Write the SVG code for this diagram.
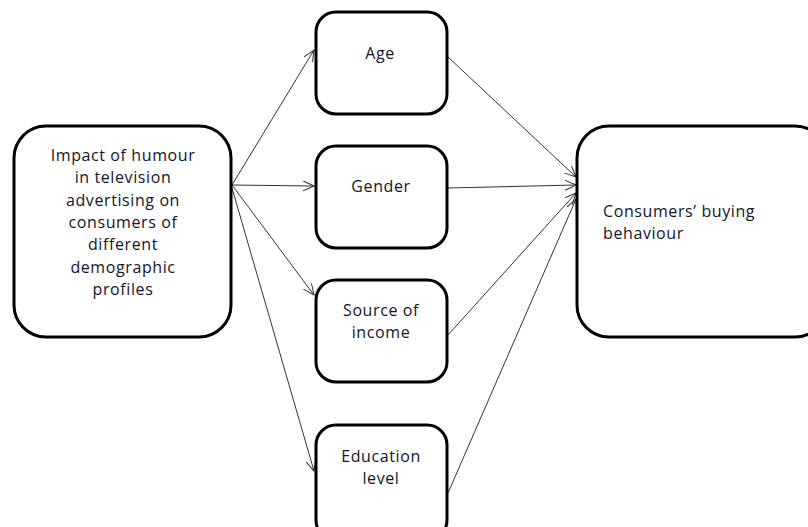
<svg xmlns="http://www.w3.org/2000/svg" width="808" height="527" viewBox="0 0 808 527">
<style>
.box{fill:#fff;stroke:#000;stroke-width:3}
.t{font-family:"Open Sans","Liberation Sans",sans-serif;font-size:16px;font-weight:500;fill:#141428;letter-spacing:0.6px}
.c{text-anchor:middle}
.ln{stroke:#333;stroke-width:1;fill:none;marker-end:url(#ah)}
</style>
<defs>
<marker id="ah" markerUnits="userSpaceOnUse" markerWidth="14" markerHeight="12" refX="11" refY="5" orient="auto">
<path d="M0,0 L11,5 L0,10" fill="none" stroke="#333" stroke-width="1"/>
</marker>
</defs>
<rect width="808" height="527" fill="#fff"/>
<g id="connectors">
<line class="ln" x1="232" y1="185" x2="314" y2="50"/>
<line class="ln" x1="232" y1="185" x2="314" y2="186"/>
<line class="ln" x1="232" y1="185" x2="314" y2="295"/>
<line class="ln" x1="232" y1="188" x2="314" y2="471"/>
<line class="ln" x1="448" y1="57" x2="576" y2="177"/>
<line class="ln" x1="448" y1="188" x2="576" y2="185"/>
<line class="ln" x1="448" y1="335" x2="576" y2="193"/>
<line class="ln" x1="448" y1="493" x2="576" y2="199"/>
</g>
<g id="impact">
<rect class="box" x="14" y="126" width="217" height="211" rx="32"/>
<text class="t c" x="123" y="161">Impact of humour</text>
<text class="t c" x="123" y="183">in television</text>
<text class="t c" x="123" y="206">advertising on</text>
<text class="t c" x="123" y="228">consumers of</text>
<text class="t c" x="123" y="250">different</text>
<text class="t c" x="123" y="273">demographic</text>
<text class="t c" x="123" y="295">profiles</text>
</g>
<g id="age">
<rect class="box" x="316" y="12" width="131" height="102" rx="20"/>
<text class="t c" x="380" y="59">Age</text>
</g>
<g id="gender">
<rect class="box" x="316" y="146" width="131" height="102" rx="20"/>
<text class="t c" x="381" y="192">Gender</text>
</g>
<g id="source">
<rect class="box" x="316" y="280" width="131" height="102" rx="20"/>
<text class="t c" x="381" y="316">Source of</text>
<text class="t c" x="381" y="338">income</text>
</g>
<g id="education">
<rect class="box" x="316" y="425" width="131" height="115" rx="20"/>
<text class="t c" x="381" y="462">Education</text>
<text class="t c" x="381" y="484">level</text>
</g>
<g id="buying">
<rect class="box" x="577" y="126" width="250" height="211" rx="32"/>
<text class="t" x="603" y="217">Consumers’ buying</text>
<text class="t" x="603" y="239">behaviour</text>
</g>
</svg>
